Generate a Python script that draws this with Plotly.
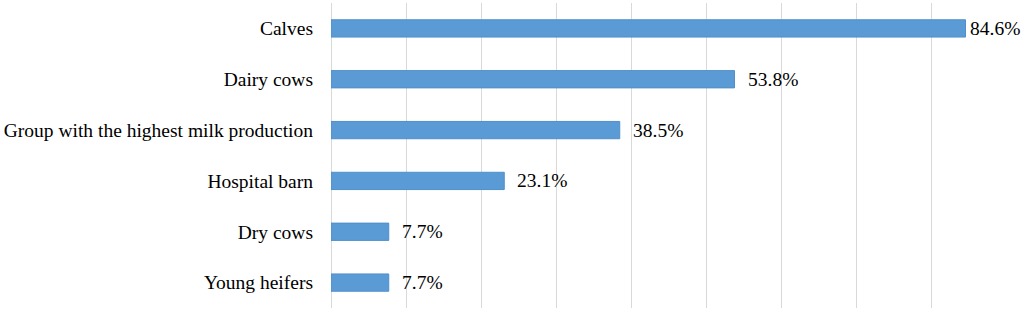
import plotly.graph_objects as go

categories = ["Calves", "Dairy cows", "Group with the highest milk production",
              "Hospital barn", "Dry cows", "Young heifers"]
values = [0.846, 0.538, 0.385, 0.231, 0.077, 0.077]
labels = ["84.6%", "53.8%", "38.5%", "23.1%", "7.7%", "7.7%"]

FONT = "Liberation Serif, Times New Roman, serif"
FS = 19.5

fig = go.Figure()
fig.add_trace(go.Bar(
    x=values, y=categories, orientation="h",
    marker=dict(color="#5B9BD5", line=dict(color="#4F8FCB", width=1)),
    hoverinfo="skip",
))

for c, v, t in zip(categories, values, labels):
    shift = 11 if v < 0.8 else 2
    fig.add_annotation(x=v, y=c, text=t, xanchor="left", yanchor="middle",
                       xshift=shift, showarrow=False,
                       font=dict(family=FONT, size=FS, color="#000000"))

fig.update_layout(
    width=1021, height=311,
    margin=dict(l=331, r=15, t=3, b=3, autoexpand=False),
    paper_bgcolor="white", plot_bgcolor="white",
    bargap=0.66, showlegend=False,
    font=dict(family=FONT, size=FS, color="#000000"),
)
fig.update_xaxes(range=[0, 0.9], dtick=0.1, showticklabels=False,
                 showgrid=True, gridcolor="#D9D9D9", gridwidth=1,
                 zeroline=True, zerolinecolor="#D9D9D9", zerolinewidth=1,
                 showline=False)
fig.update_yaxes(autorange="reversed", showgrid=False, zeroline=False,
                 showline=False, ticklabelstandoff=17,
                 tickfont=dict(family=FONT, size=FS, color="#000000"))

fig.write_html("out.html",
               config={"displayModeBar": False, "staticPlot": True},
               post_script="document.body.style.margin='0';document.body.style.overflow='hidden';")
